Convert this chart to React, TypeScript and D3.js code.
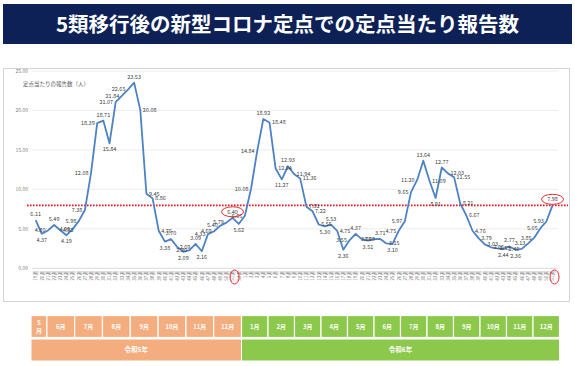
import React, { useEffect, useRef } from 'react';
import * as d3 from 'd3';

const title = '5類移行後の新型コロナ定点での定点当たり報告数';
const yTitle = '定点当たりの報告数（人）';

// 2023年19週〜52週, 2024年1週〜51週
const weekLabels = [
  '19週', '20週', '21週', '22週', '23週', '24週', '25週', '26週', '27週', '28週', '29週', '30週',
  '31週', '32週', '33週', '34週', '35週', '36週', '37週', '38週', '39週', '40週', '41週', '42週',
  '43週', '44週', '45週', '46週', '47週', '48週', '49週', '50週', '51週', '52週',
  '1週', '2週', '3週', '4週', '5週', '6週', '7週', '8週', '9週', '10週', '11週', '12週',
  '13週', '14週', '15週', '16週', '17週', '18週', '19週', '20週', '21週', '22週', '23週', '24週',
  '25週', '26週', '27週', '28週', '29週', '30週', '31週', '32週', '33週', '34週', '35週', '36週',
  '37週', '38週', '39週', '40週', '41週', '42週', '43週', '44週', '45週', '46週', '47週', '48週',
  '49週', '50週', '51週',
];

const values = [
  6.11, 4.37, 4.8, 5.49, 4.82, 4.19, 4.96, 5.98, 7.38, 12.08, 18.39, 18.71, 15.84, 21.07, 21.84,
  22.65, 23.53, 20.08, 9.45, 8.86, 4.76, 3.38, 3.7, 2.69, 2.09, 2.3, 3.09, 2.16, 4.33, 4.69, 5.4,
  5.79, 6.4, 5.62, 6.65, 10.08, 14.84, 18.92, 18.48, 12.64, 11.27, 12.93, 11.94, 11.36, 7.81, 7.22,
  5.55, 5.3, 5.53, 4.75, 2.36, 3.55, 4.37, 3.69, 3.51, 3.7, 3.71, 3.15, 3.1, 4.75, 5.97, 9.65,
  11.2, 13.64, 11.09, 8.91, 12.77, 12.03, 11.55, 8.21, 6.67, 4.76, 3.79, 3.03, 2.66, 2.53, 2.44,
  2.77, 2.36, 2.46, 3.13, 3.85, 5.05, 5.93, 7.98,
];

// same week, one year apart
const circled = [32, 84];

const yTicks = [0, 5, 10, 15, 20, 25];

const months2023 = ['5月', '6月', '7月', '8月', '9月', '10月', '11月', '12月'];
const months2024 = ['1月', '2月', '3月', '4月', '5月', '6月', '7月', '8月', '9月', '10月', '11月', '12月'];
const years = ['令和5年', '令和6年'];

const FONT = "'Noto Sans CJK JP', 'Noto Sans', sans-serif";

const App: React.FC = () => {
  const ref = useRef(null);

  useEffect(() => {
    if (!ref.current) return;
    const svg = d3.select(ref.current);
    svg.selectAll('*').remove();
    svg.attr('font-family', FONT);

    // title banner
    svg.append('rect').attr('x', 3).attr('y', 4).attr('width', 569).attr('height', 40).attr('fill', '#0e2157');
    svg
      .append('text')
      .attr('x', 287.5)
      .attr('y', 24.5)
      .attr('dy', '0.36em')
      .attr('text-anchor', 'middle')
      .attr('fill', '#fff')
      .attr('font-size', 20.5)
      .attr('font-weight', 'bold')
      .text(title);

    // chart frame
    svg
      .append('rect')
      .attr('x', 3.5)
      .attr('y', 68.5)
      .attr('width', 566)
      .attr('height', 233)
      .attr('fill', '#fff')
      .attr('stroke', '#d4d4d4');

    const x = d3
      .scalePoint<number>()
      .domain(d3.range(values.length))
      .range([32.6, 555.6])
      .padding(0.5);
    const y = d3.scaleLinear().domain([0, 25]).range([268.3, 71]);

    const chart = svg.append('g');

    // gridlines + y labels
    chart
      .selectAll('line.grid')
      .data(yTicks)
      .enter()
      .append('line')
      .attr('x1', 32)
      .attr('x2', 558)
      .attr('y1', (d) => y(d))
      .attr('y2', (d) => y(d))
      .attr('stroke', (d) => (d === 0 ? '#d0d0d0' : '#e8e8e8'))
      .attr('stroke-width', 0.8);

    chart
      .selectAll('text.ylab')
      .data(yTicks)
      .enter()
      .append('text')
      .attr('x', 28)
      .attr('y', (d) => y(d))
      .attr('dy', '0.35em')
      .attr('text-anchor', 'end')
      .attr('font-size', 5)
      .attr('fill', '#7f7f7f')
      .text((d) => d.toFixed(2));

    chart
      .append('text')
      .attr('x', 23)
      .attr('y', 86)
      .attr('font-size', 5.5)
      .attr('fill', '#595959')
      .text(yTitle);

    // x tick labels
    chart
      .selectAll('text.xlab')
      .data(weekLabels)
      .enter()
      .append('text')
      .attr('transform', (d, i) => `translate(${x(i)! + 1.8},271) rotate(-90)`)
      .attr('text-anchor', 'end')
      .attr('font-size', 4.6)
      .attr('fill', '#7f7f7f')
      .text((d) => d);

    // reference line at the latest value
    const latest = values[values.length - 1];
    chart
      .append('line')
      .attr('x1', 27)
      .attr('x2', 568)
      .attr('y1', y(latest))
      .attr('y2', y(latest))
      .attr('stroke', '#e8141b')
      .attr('stroke-width', 1.8)
      .attr('stroke-dasharray', '1.6 1.4');

    // series line
    const line = d3
      .line<number>()
      .x((d, i) => x(i)!)
      .y((d) => y(d));
    chart
      .append('path')
      .datum(values)
      .attr('fill', 'none')
      .attr('stroke', '#4d82c4')
      .attr('stroke-width', 1.8)
      .attr('stroke-linejoin', 'round')
      .attr('d', line);

    // data labels: peaks above, troughs below, slopes beside the line
    const n = values.length;
    const kind = (i: number) => {
      const p = i > 0 ? values[i - 1] : values[i];
      const q = i < n - 1 ? values[i + 1] : values[i];
      const v = values[i];
      if (i === n - 1) return 'top';
      if (v < p && v < q) return 'low';
      if (v >= p && v >= q) return 'top';
      return v > p ? 'left' : 'right';
    };
    const place = (d: number, i: number) => {
      const k = kind(i);
      const px = x(i)!;
      const py = y(d);
      if (k === 'low') return { x: px, y: py + 8, a: 'middle' };
      if (k === 'top') return { x: px, y: py - 4, a: 'middle' };
      if (k === 'left') return { x: px - 2.5, y: py + 1.8, a: 'end' };
      return { x: px + 2.5, y: py + 1.8, a: 'start' };
    };

    chart
      .selectAll('text.dlab')
      .data(values)
      .enter()
      .append('text')
      .attr('x', (d, i) => place(d, i).x)
      .attr('y', (d, i) => place(d, i).y)
      .attr('text-anchor', (d, i) => place(d, i).a)
      .attr('font-size', 5.5)
      .attr('fill', '#404040')
      .text((d) => d.toFixed(2));

    // red circles
    circled.forEach((i) => {
      const p = place(values[i], i);
      chart
        .append('ellipse')
        .attr('cx', p.x)
        .attr('cy', p.y - 2)
        .attr('rx', 11)
        .attr('ry', 5)
        .attr('fill', 'none')
        .attr('stroke', '#e8141b')
        .attr('stroke-width', 0.9);
      chart
        .append('ellipse')
        .attr('cx', x(i)! + 2)
        .attr('cy', 277)
        .attr('rx', 4.5)
        .attr('ry', 7)
        .attr('fill', 'none')
        .attr('stroke', '#e8141b')
        .attr('stroke-width', 0.9);
    });

    // month / year table
    const rowTop = 315.5;
    const rowH = 22;
    const gap = 1.5;
    const mayShare = 0.57;
    const x23 = d3.scaleLinear().domain([0, months2023.length - 1 + mayShare]).range([31, 241.5]);
    const x24 = d3.scaleLinear().domain([0, months2024.length]).range([241.5, 559.5]);

    const cells = [
      ...months2023.map((m, i) => ({
        label: m,
        x0: i === 0 ? x23(0) : x23(i - 1 + mayShare),
        x1: x23(i + mayShare),
        fill: '#f4ad7e',
      })),
      ...months2024.map((m, i) => ({ label: m, x0: x24(i), x1: x24(i + 1), fill: '#8cc84b' })),
    ];

    const table = svg.append('g');
    table
      .selectAll('rect.month')
      .data(cells)
      .enter()
      .append('rect')
      .attr('x', (d) => d.x0)
      .attr('y', rowTop)
      .attr('width', (d) => d.x1 - d.x0)
      .attr('height', rowH)
      .attr('fill', (d) => d.fill)
      .attr('stroke', '#fff')
      .attr('stroke-width', 1.2);

    table
      .selectAll('text.month')
      .data(cells)
      .enter()
      .append('text')
      .attr('x', (d) => (d.x0 + d.x1) / 2)
      .attr('y', rowTop + rowH / 2)
      .attr('dy', '0.35em')
      .attr('text-anchor', 'middle')
      .attr('font-size', 6)
      .attr('font-weight', 'bold')
      .attr('fill', '#fff')
      .each(function (d, i) {
        const t = d3.select(this);
        if (i === 0) {
          t.append('tspan').attr('x', (d.x0 + d.x1) / 2).attr('dy', '-0.3em').text(d.label.slice(0, 1));
          t.append('tspan').attr('x', (d.x0 + d.x1) / 2).attr('dy', '1.3em').text(d.label.slice(1));
        } else {
          t.text(d.label);
        }
      });

    const yearCells = [
      { label: years[0], x0: x23(0), x1: x23(months2023.length - 1 + mayShare), fill: '#f4ad7e' },
      { label: years[1], x0: x24(0), x1: x24(months2024.length), fill: '#8cc84b' },
    ];
    table
      .selectAll('rect.year')
      .data(yearCells)
      .enter()
      .append('rect')
      .attr('x', (d) => d.x0)
      .attr('y', rowTop + rowH + gap)
      .attr('width', (d) => d.x1 - d.x0)
      .attr('height', rowH)
      .attr('fill', (d) => d.fill)
      .attr('stroke', '#fff')
      .attr('stroke-width', 1);
    table
      .selectAll('text.year')
      .data(yearCells)
      .enter()
      .append('text')
      .attr('x', (d) => (d.x0 + d.x1) / 2)
      .attr('y', rowTop + rowH + gap + rowH / 2)
      .attr('dy', '0.35em')
      .attr('text-anchor', 'middle')
      .attr('font-size', 6.5)
      .attr('font-weight', 'bold')
      .attr('fill', '#fff')
      .text((d) => d.label);

    return () => {
      svg.selectAll('*').remove();
    };
  }, []);

  return (
    <svg
      ref={ref}
      width={575}
      height={366}
      style={{ position: 'absolute', left: 0, top: 0, background: '#fff' }}
    ></svg>
  );
};

export default App;
